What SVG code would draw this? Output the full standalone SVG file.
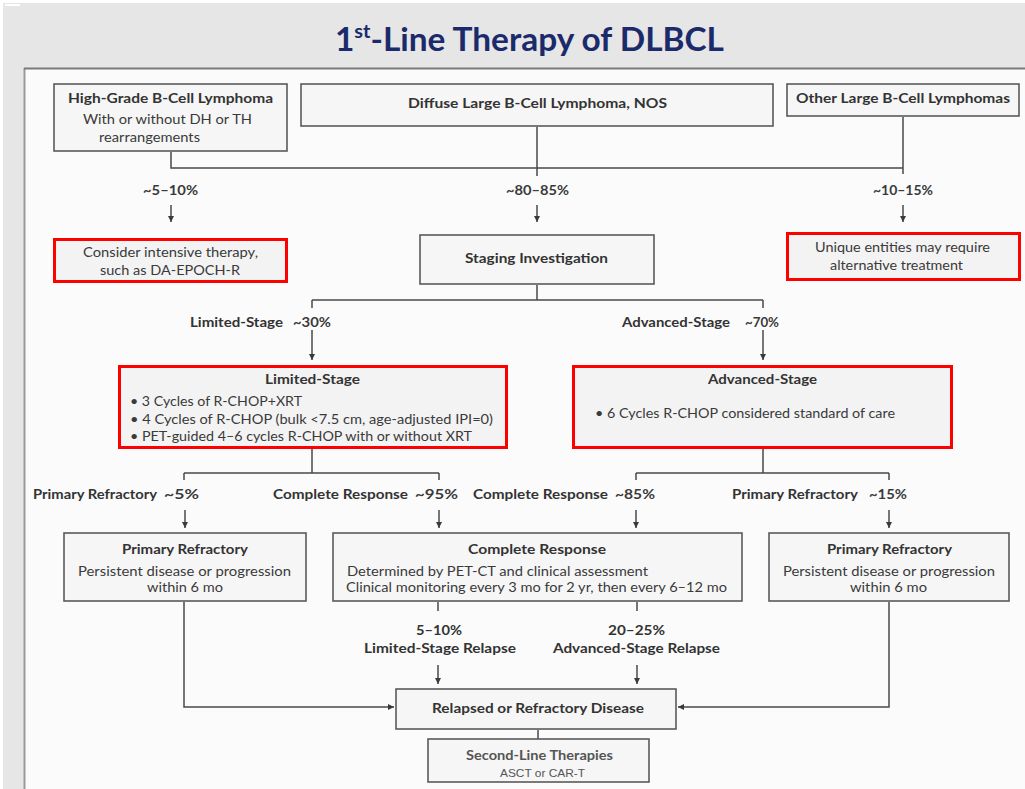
<svg xmlns="http://www.w3.org/2000/svg" width="1025" height="789" viewBox="0 0 1025 789">
<style>
text{font-family:Lato,"Liberation Sans",sans-serif}
.t{font-weight:700;font-size:32px;fill:#1b2a6b}
.b{font-weight:700;font-size:14px;fill:#333}
.p{font-weight:700;font-size:13px;fill:#3a3a3a}
.r{font-weight:400;font-size:13px;fill:#3a3a3a}
.s{font-weight:400;font-size:11px;fill:#555;font-family:"Liberation Sans",Arial,sans-serif}
.box{fill:#f6f6f6;stroke:#5a5a5a;stroke-width:1.6}
.red{fill:#f3f3f3;stroke:#ff0000;stroke-width:3}
.ln{fill:none;stroke:#4a4a4a;stroke-width:1.5}
.ar{fill:none;stroke:#4a4a4a;stroke-width:1.5;marker-end:url(#ah)}
</style>
<defs>
<marker id="ah" markerUnits="userSpaceOnUse" markerWidth="7" markerHeight="7" refX="6" refY="3" orient="auto">
<path d="M0,0 L6,3 L0,6 z" fill="#3a3a3a"/>
</marker>
</defs>
<rect x="0" y="0" width="1025" height="789" fill="#ffffff"/>
<rect x="3" y="3" width="1022" height="786" fill="#e6e6e6"/>
<rect x="25" y="69" width="1000" height="720" fill="#fbfbfb"/>
<line x1="24.5" y1="68" x2="24.5" y2="789" stroke="#9a9a9a" stroke-width="2"/>
<line x1="24" y1="68.5" x2="1025" y2="68.5" stroke="#7a7a7a" stroke-width="2"/>
<rect x="5" y="4" width="15" height="2" fill="#ffffff"/>

<g id="title">
<text class="t" x="335" y="51" textLength="389" lengthAdjust="spacingAndGlyphs">1<tspan font-size="19" dy="-13">st</tspan><tspan dy="13">-Line Therapy of DLBCL</tspan></text>
</g>

<g id="connectors">
<path class="ln" d="M171 152 V168 H903 M537 127 V176 M903 117 V174"/>
<path class="ar" d="M171 205 V222"/>
<path class="ar" d="M537 205 V222"/>
<path class="ar" d="M903 205 V222"/>
<path class="ln" d="M537 285 V300 M312 300 H763 M312 300 V308 M763 300 V308"/>
<path class="ar" d="M312 330 V360"/>
<path class="ar" d="M763 330 V360"/>
<path class="ln" d="M312 449 V473 M184 473 H439 M184 473 V480 M439 473 V480"/>
<path class="ln" d="M763 449 V473 M636 473 H889 M636 473 V480 M889 473 V480"/>
<path class="ar" d="M185 510 V528"/>
<path class="ar" d="M439 510 V528"/>
<path class="ar" d="M636 510 V528"/>
<path class="ar" d="M889 510 V528"/>
<path class="ar" d="M184 602 V707 H394"/>
<path class="ar" d="M889 602 V707 H678"/>
<path class="ln" d="M438 602 V611 M637 602 V611"/>
<path class="ar" d="M438 665 V684"/>
<path class="ar" d="M637 665 V684"/>
<path class="ln" d="M538 730 V739"/>
</g>

<g id="labels">
<text class="p" x="143" y="195" textLength="55" lengthAdjust="spacingAndGlyphs">~5–10%</text>
<text class="p" x="506" y="195" textLength="63" lengthAdjust="spacingAndGlyphs">~80–85%</text>
<text class="p" x="873" y="195" textLength="60" lengthAdjust="spacingAndGlyphs">~10–15%</text>
<text class="b" x="190" y="327" textLength="93" lengthAdjust="spacingAndGlyphs">Limited-Stage</text>
<text class="p" x="293" y="327" textLength="38" lengthAdjust="spacingAndGlyphs">~30%</text>
<text class="b" x="622" y="327" textLength="108" lengthAdjust="spacingAndGlyphs">Advanced-Stage</text>
<text class="p" x="745" y="327" textLength="34" lengthAdjust="spacingAndGlyphs">~70%</text>
<text class="b" x="33" y="499" textLength="124" lengthAdjust="spacingAndGlyphs">Primary Refractory</text>
<text class="p" x="164" y="499" textLength="35" lengthAdjust="spacingAndGlyphs">~5%</text>
<text class="b" x="273" y="499" textLength="135" lengthAdjust="spacingAndGlyphs">Complete Response</text>
<text class="p" x="415" y="499" textLength="43" lengthAdjust="spacingAndGlyphs">~95%</text>
<text class="b" x="473" y="499" textLength="135" lengthAdjust="spacingAndGlyphs">Complete Response</text>
<text class="p" x="615" y="499" textLength="40" lengthAdjust="spacingAndGlyphs">~85%</text>
<text class="b" x="732" y="499" textLength="126" lengthAdjust="spacingAndGlyphs">Primary Refractory</text>
<text class="p" x="869" y="499" textLength="38" lengthAdjust="spacingAndGlyphs">~15%</text>
<text class="b" x="416" y="635" textLength="46" lengthAdjust="spacingAndGlyphs">5–10%</text>
<text class="b" x="364" y="653" textLength="152" lengthAdjust="spacingAndGlyphs">Limited-Stage Relapse</text>
<text class="b" x="608" y="635" textLength="57" lengthAdjust="spacingAndGlyphs">20–25%</text>
<text class="b" x="553" y="653" textLength="167" lengthAdjust="spacingAndGlyphs">Advanced-Stage Relapse</text>
</g>

<g id="node-high-grade">
<rect class="box" x="54" y="84" width="233" height="67"/>
<text class="b" x="68" y="103" textLength="205" lengthAdjust="spacingAndGlyphs">High-Grade B-Cell Lymphoma</text>
<text class="r" x="83" y="124" textLength="169" lengthAdjust="spacingAndGlyphs">With or without DH or TH</text>
<text class="r" x="99" y="142" textLength="101" lengthAdjust="spacingAndGlyphs">rearrangements</text>
</g>

<g id="node-dlbcl-nos">
<rect class="box" x="301" y="84" width="472" height="42"/>
<text class="b" x="408" y="108" textLength="259" lengthAdjust="spacingAndGlyphs">Diffuse Large B-Cell Lymphoma, NOS</text>
</g>

<g id="node-other">
<rect class="box" x="787" y="84" width="232" height="32"/>
<text class="b" x="796" y="103" textLength="214" lengthAdjust="spacingAndGlyphs">Other Large B-Cell Lymphomas</text>
</g>

<g id="node-intensive">
<rect class="red" x="54.5" y="239.5" width="232" height="42"/>
<text class="r" x="83" y="257" textLength="175" lengthAdjust="spacingAndGlyphs">Consider intensive therapy,</text>
<text class="r" x="100" y="275" textLength="140" lengthAdjust="spacingAndGlyphs">such as DA-EPOCH-R</text>
</g>

<g id="node-staging">
<rect class="box" x="420" y="235" width="234" height="49"/>
<text class="b" x="465" y="263" textLength="143" lengthAdjust="spacingAndGlyphs">Staging Investigation</text>
</g>

<g id="node-unique">
<rect class="red" x="787.5" y="233.5" width="232" height="46"/>
<text class="r" x="815" y="252" textLength="175" lengthAdjust="spacingAndGlyphs">Unique entities may require</text>
<text class="r" x="830" y="270" textLength="133" lengthAdjust="spacingAndGlyphs">alternative treatment</text>
</g>

<g id="node-limited">
<rect class="red" x="119.5" y="366.5" width="387" height="81"/>
<text class="b" x="265" y="384" textLength="95" lengthAdjust="spacingAndGlyphs">Limited-Stage</text>
<text class="r" x="130" y="406" textLength="172" lengthAdjust="spacingAndGlyphs">• 3 Cycles of R-CHOP+XRT</text>
<text class="r" x="130" y="424" textLength="363" lengthAdjust="spacingAndGlyphs">• 4 Cycles of R-CHOP (bulk &lt;7.5 cm, age-adjusted IPI=0)</text>
<text class="r" x="130" y="441" textLength="342" lengthAdjust="spacingAndGlyphs">• PET-guided 4–6 cycles R-CHOP with or without XRT</text>
</g>

<g id="node-advanced">
<rect class="red" x="573.5" y="366.5" width="378" height="81"/>
<text class="b" x="708" y="384" textLength="109" lengthAdjust="spacingAndGlyphs">Advanced-Stage</text>
<text class="r" x="595" y="418" textLength="300" lengthAdjust="spacingAndGlyphs">• 6 Cycles R-CHOP considered standard of care</text>
</g>

<g id="node-pr-left">
<rect class="box" x="64" y="533" width="242" height="68"/>
<text class="b" x="122" y="554" textLength="126" lengthAdjust="spacingAndGlyphs">Primary Refractory</text>
<text class="r" x="78" y="576" textLength="213" lengthAdjust="spacingAndGlyphs">Persistent disease or progression</text>
<text class="r" x="147" y="592" textLength="76" lengthAdjust="spacingAndGlyphs">within 6 mo</text>
</g>

<g id="node-cr">
<rect class="box" x="333" y="533" width="409" height="68"/>
<text class="b" x="468" y="554" textLength="138" lengthAdjust="spacingAndGlyphs">Complete Response</text>
<text class="r" x="347" y="576" textLength="301" lengthAdjust="spacingAndGlyphs">Determined by PET-CT and clinical assessment</text>
<text class="r" x="346" y="592" textLength="381" lengthAdjust="spacingAndGlyphs">Clinical monitoring every 3 mo for 2 yr, then every 6–12 mo</text>
</g>

<g id="node-pr-right">
<rect class="box" x="769" y="533" width="240" height="68"/>
<text class="b" x="827" y="554" textLength="125" lengthAdjust="spacingAndGlyphs">Primary Refractory</text>
<text class="r" x="783" y="576" textLength="212" lengthAdjust="spacingAndGlyphs">Persistent disease or progression</text>
<text class="r" x="850" y="592" textLength="77" lengthAdjust="spacingAndGlyphs">within 6 mo</text>
</g>

<g id="node-relapsed">
<rect class="box" x="396" y="689" width="280" height="40"/>
<text class="b" x="432" y="713" textLength="212" lengthAdjust="spacingAndGlyphs">Relapsed or Refractory Disease</text>
</g>

<g id="node-second-line">
<rect class="box" x="428" y="739" width="221" height="43"/>
<text class="b" x="466" y="760" textLength="147" lengthAdjust="spacingAndGlyphs" style="fill:#555">Second-Line Therapies</text>
<text class="s" x="500" y="777" textLength="85" lengthAdjust="spacingAndGlyphs">ASCT or CAR-T</text>
</g>
</svg>
